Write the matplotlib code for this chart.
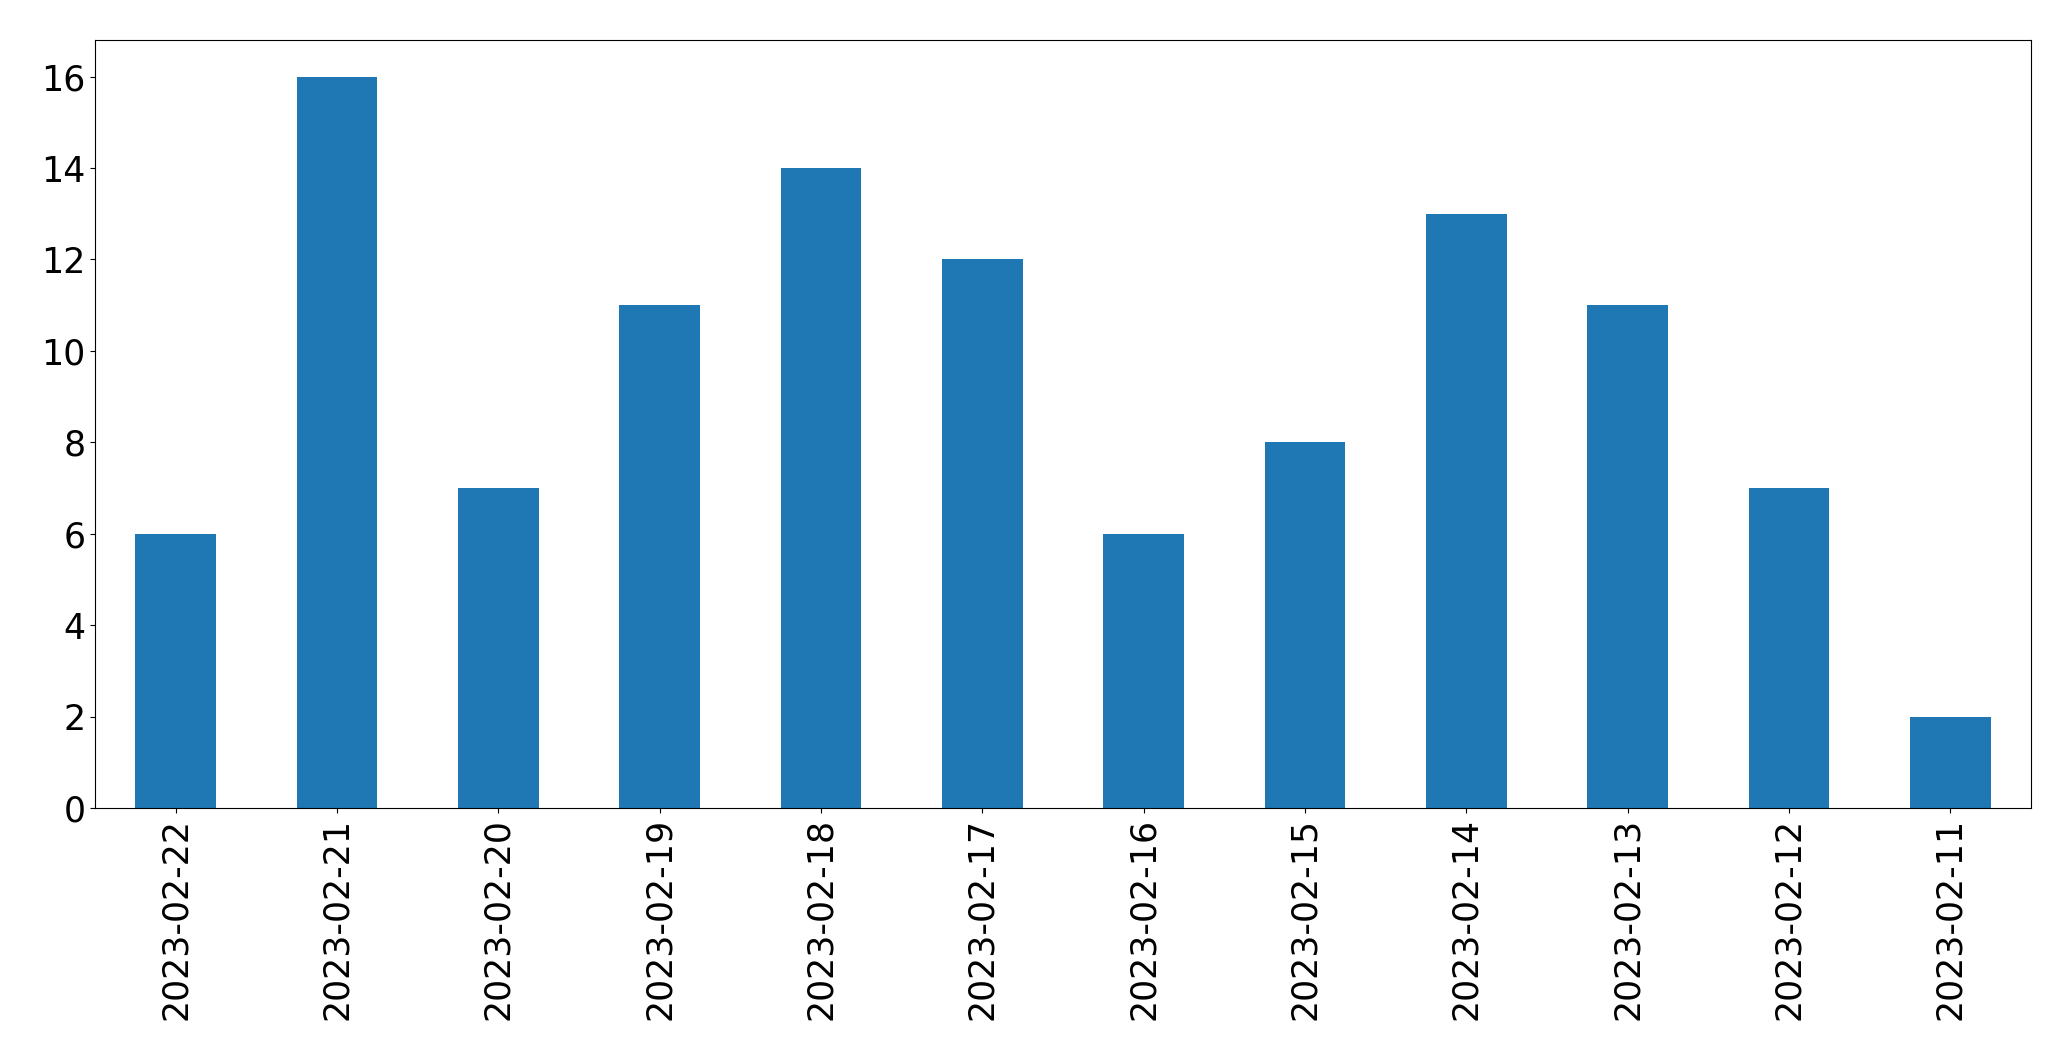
import matplotlib
matplotlib.use("Agg")
import matplotlib.pyplot as plt

dates = ["2023-02-22", "2023-02-21", "2023-02-20", "2023-02-19", "2023-02-18", "2023-02-17",
         "2023-02-16", "2023-02-15", "2023-02-14", "2023-02-13", "2023-02-12", "2023-02-11"]
counts = [6, 16, 7, 11, 14, 12, 6, 8, 13, 11, 7, 2]

fig = plt.figure(figsize=(20.71, 10.61), dpi=100)
ax = fig.add_axes([95/2071, 1 - 808/1061, (2031-95)/2071, (808-40)/1061])
x = list(range(len(dates)))
ax.bar(x, counts, width=0.5, color="#1f77b4")
ax.set_xlim(-0.5, len(dates) - 0.5)
ax.set_ylim(0, 16.8)
ax.set_xticks(x)
ax.set_xticklabels(dates, rotation=90)
ax.set_yticks(range(0, 17, 2))
ax.tick_params(labelsize=25)
fig.savefig("out.png", dpi=100)
